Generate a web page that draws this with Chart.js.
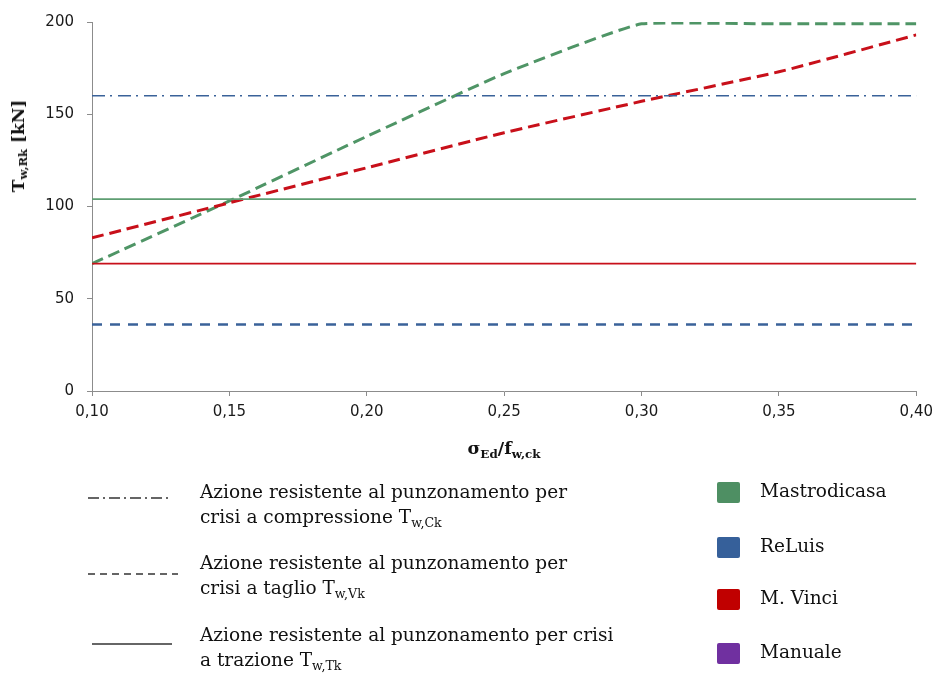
<!DOCTYPE html>
<html>
<head>
<meta charset="utf-8">
<script src="https://cdn.jsdelivr.net/npm/chart.js@4.4.1/dist/chart.umd.min.js"></script>
<style>
  html, body { margin: 0; padding: 0; background: #fff; }
  #wrap { position: relative; width: 934px; height: 673px; overflow: hidden; }
  #chart { position: absolute; left: 0; top: 0; }
  .serif { font-family: "DejaVu Serif", "Liberation Serif", serif; color: #111; }
  .ytitle { position: absolute; left: 18px; top: 146px; transform: translate(-50%, -50%) rotate(-90deg);
            font-weight: bold; font-size: 17px; white-space: nowrap; }
  .xtitle { position: absolute; left: 504px; top: 448px; transform: translate(-50%, -50%);
            font-weight: bold; font-size: 17.5px; white-space: nowrap; }
  sub { font-size: 0.68em; vertical-align: -0.3em; line-height: 0; }
  .ltext { position: absolute; left: 200px; font-size: 18.5px; line-height: 25px; white-space: nowrap; }
  .sw { position: absolute; left: 717px; width: 23px; height: 21px; border-radius: 2px; }
  .stext { position: absolute; left: 760px; font-size: 18.5px; line-height: 20px; white-space: nowrap; }
  svg { position: absolute; left: 0; top: 0; }
</style>
</head>
<body>
<div id="wrap">
  <canvas id="chart" width="940" height="460"></canvas>

  <div class="serif ytitle">T<sub>w,Rk</sub> [kN]</div>
  <div class="serif xtitle">σ<sub>Ed</sub>/f<sub>w,ck</sub></div>

  <svg width="934" height="673">
    <line x1="88" y1="498" x2="172" y2="498" stroke="#333" stroke-width="1.3" stroke-dasharray="11,4,2,4"/>
    <line x1="88" y1="574" x2="178" y2="574" stroke="#333" stroke-width="1.3" stroke-dasharray="7,5"/>
    <line x1="92" y1="644" x2="172" y2="644" stroke="#333" stroke-width="1.3"/>
  </svg>

  <div class="serif ltext" style="top:479px">Azione resistente al punzonamento per<br>crisi a compressione T<sub>w,Ck</sub></div>
  <div class="serif ltext" style="top:550px">Azione resistente al punzonamento per<br>crisi a taglio T<sub>w,Vk</sub></div>
  <div class="serif ltext" style="top:622px">Azione resistente al punzonamento per crisi<br>a trazione T<sub>w,Tk</sub></div>

  <div class="sw" style="top:482px;background:#4E8F63"></div>
  <div class="serif stext" style="top:481px">Mastrodicasa</div>
  <div class="sw" style="top:537px;background:#36609A"></div>
  <div class="serif stext" style="top:536px">ReLuis</div>
  <div class="sw" style="top:589px;background:#C00000"></div>
  <div class="serif stext" style="top:588px">M. Vinci</div>
  <div class="sw" style="top:643px;background:#7030A0"></div>
  <div class="serif stext" style="top:642px">Manuale</div>
</div>

<script>
// σEd / fw,ck
const ratios = [0.10, 0.15, 0.20, 0.25, 0.30, 0.35, 0.40];
const xTicks = [0.10, 0.15, 0.20, 0.25, 0.30, 0.35, 0.40];
const yTicks = [0, 50, 100, 150, 200];

// Punching resistance T [kN]
const mastrodicasaShear   = [69, 103, 138, 172, 199, 199, 199];
const mastrodicasaTension = [104, 104, 104, 104, 104, 104, 104];
const reluisCompression   = [160, 160, 160, 160, 160, 160, 160];
const reluisShear         = [36, 36, 36, 36, 36, 36, 36];
const vinciShear          = [83, 102, 121, 140, 157, 173, 193];
const vinciTension        = [69, 69, 69, 69, 69, 69, 69];

const GREEN = '#4F9566';
const GREEN_LIGHT = '#5E9E72';
const BLUE = '#3A6299';
const RED = '#C8101A';

const pts = vals => vals.map((v, i) => ({ x: ratios[i], y: v }));

const series = [
  { label: 'ReLuis – compressione', data: pts(reluisCompression), borderColor: BLUE, borderWidth: 1.6, borderDash: [13, 5, 2, 6] },
  { label: 'ReLuis – taglio', data: pts(reluisShear), borderColor: BLUE, borderWidth: 2.5, borderDash: [10, 8] },
  { label: 'Mastrodicasa – trazione', data: pts(mastrodicasaTension), borderColor: GREEN_LIGHT, borderWidth: 1.8 },
  { label: 'M. Vinci – trazione', data: pts(vinciTension), borderColor: RED, borderWidth: 1.8 },
  { label: 'M. Vinci – taglio', data: pts(vinciShear), borderColor: RED, borderWidth: 3, borderDash: [12, 6], tension: 0.15 },
  { label: 'Mastrodicasa – taglio', data: pts(mastrodicasaShear), borderColor: GREEN, borderWidth: 3, borderDash: [12, 6], tension: 0.15 }
];

const tickFont = { family: '"DejaVu Sans", Verdana, sans-serif', size: 15 };
const axisGray = '#8c8c8c';

new Chart(document.getElementById('chart'), {
  type: 'line',
  data: {
    datasets: series.map(s => Object.assign({ pointRadius: 0, fill: false, tension: 0 }, s))
  },
  options: {
    responsive: false,
    animation: false,
    layout: { padding: { left: 0, top: 21, right: 13, bottom: 0 } },
    plugins: { legend: { display: false }, tooltip: { enabled: false } },
    scales: {
      x: {
        type: 'linear',
        min: 0.10,
        max: 0.40,
        afterBuildTicks: s => { s.ticks = xTicks.map(v => ({ value: v })); },
        afterFit: s => { s.height = 69; },
        grid: { drawOnChartArea: false, drawTicks: true, tickLength: 5, color: axisGray },
        border: { display: true, color: axisGray, width: 1 },
        ticks: {
          font: tickFont, color: '#1a1a1a', padding: 7, maxRotation: 0,
          callback: v => v.toFixed(2).replace('.', ',')
        }
      },
      y: {
        min: 0,
        max: 200,
        afterBuildTicks: s => { s.ticks = yTicks.map(v => ({ value: v })); },
        afterFit: s => { s.width = 92; },
        grid: { drawOnChartArea: false, drawTicks: true, tickLength: 5, color: axisGray },
        border: { display: true, color: axisGray, width: 1 },
        ticks: { font: tickFont, color: '#1a1a1a', padding: 13 }
      }
    }
  }
});
</script>
</body>
</html>
